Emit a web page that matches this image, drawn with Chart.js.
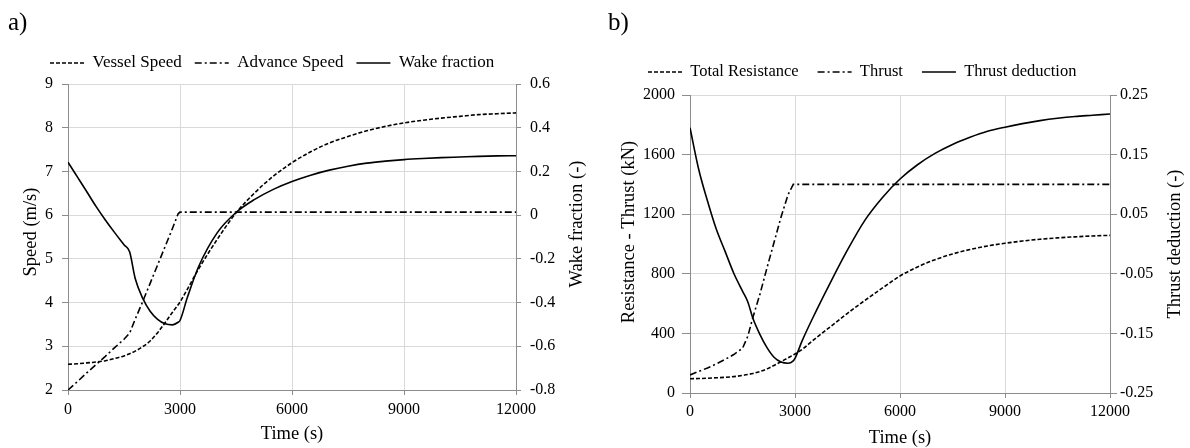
<!DOCTYPE html>
<html>
<head>
<meta charset="utf-8">
<script src="https://cdn.jsdelivr.net/npm/chart.js@4.4.1/dist/chart.umd.min.js"></script>
<style>
    body { margin: 0; background: #fff; }
    #wrap { position: relative; width: 1190px; height: 448px; background: #fff; }
    canvas { position: absolute; top: 0; }
    .tag { position: absolute; top: 9px; font: 25px/25px "Liberation Serif", serif; color: #000; }
</style>
</head>
<body>
<div id="wrap">
    <canvas id="chartA" width="595" height="448" style="left:0"></canvas>
    <canvas id="chartB" width="590" height="448" style="left:600px"></canvas>
    <div class="tag" style="left:8px">a)</div>
    <div class="tag" style="left:608px">b)</div>
</div>
<script>
// time grid shared by every series (s)
const timeS = [0, 250, 500, 750, 1000, 1250, 1500, 1650, 1800, 2000, 2200, 2400, 2600, 2800, 2950, 3000,
    3200, 3500, 4000, 4500, 5000, 5500, 6000, 6500, 7000, 7500, 8000, 8500, 9000, 9500, 10000, 10500, 11000, 11500, 12000];

// a) speeds (m/s) and wake fraction (-)
const vesselSpeed = [2.59, 2.60, 2.62, 2.64, 2.67, 2.72, 2.78, 2.83, 2.89, 2.99, 3.12, 3.31, 3.54, 3.78, 3.95, 4.01,
    4.31, 4.77, 5.45, 6.05, 6.51, 6.89, 7.20, 7.45, 7.65, 7.80, 7.93, 8.03, 8.11, 8.17, 8.22, 8.26, 8.30, 8.32, 8.34];
const advanceSpeed = [2.00, 2.19, 2.39, 2.58, 2.77, 2.97, 3.16, 3.30, 3.62, 4.02, 4.44, 4.86, 5.28, 5.70, 6.03, 6.07,
    6.07, 6.07, 6.07, 6.07, 6.07, 6.07, 6.07, 6.07, 6.07, 6.07, 6.07, 6.07, 6.07, 6.07, 6.07, 6.07, 6.07, 6.07, 6.07];
const wakeFraction = [0.242, 0.175, 0.108, 0.040, -0.022, -0.080, -0.135, -0.168, -0.290, -0.380, -0.440, -0.477, -0.497, -0.502, -0.490, -0.482,
    -0.375, -0.235, -0.080, 0.012, 0.072, 0.118, 0.154, 0.183, 0.206, 0.224, 0.238, 0.247, 0.254, 0.259, 0.263, 0.266, 0.269, 0.271, 0.272];

// b) resistance / thrust (kN) and thrust deduction (-)
const totalResistance = [96, 97, 99, 102, 105, 110, 118, 124, 131, 144, 162, 185, 210, 236, 255, 262,
    292, 350, 443, 535, 622, 705, 785, 846, 895, 933, 963, 987, 1005, 1020, 1032, 1041, 1048, 1054, 1058];
const thrust = [121, 145, 168, 195, 225, 258, 300, 380, 510, 665, 840, 1010, 1180, 1330, 1400, 1400,
    1400, 1400, 1400, 1400, 1400, 1400, 1400, 1400, 1400, 1400, 1400, 1400, 1400, 1400, 1400, 1400, 1400, 1400, 1400];
const thrustDeduction = [0.195, 0.125, 0.072, 0.025, -0.012, -0.049, -0.079, -0.097, -0.125, -0.152, -0.174, -0.190, -0.198, -0.200, -0.196, -0.192,
    -0.163, -0.125, -0.066, -0.010, 0.040, 0.078, 0.109, 0.133, 0.152, 0.167, 0.179, 0.189, 0.196, 0.202, 0.207, 0.211, 0.214, 0.216, 0.218];

// tick labels
const timeTicks = [0, 3000, 6000, 9000, 12000];
const speedTicks = [2, 3, 4, 5, 6, 7, 8, 9];
const wakeTicks = [-0.8, -0.6, -0.4, -0.2, 0, 0.2, 0.4, 0.6];
const forceTicks = [0, 400, 800, 1200, 1600, 2000];
const deductionTicks = [-0.25, -0.15, -0.05, 0.05, 0.15, 0.25];

const GRID = '#d9d9d9';
const AXIS = '#8c8c8c';
const DASHED = [4, 2];
const DASH_DOT = [7, 3, 2, 3];

Chart.defaults.font.family = '"Liberation Serif", "Times New Roman", serif';
Chart.defaults.color = '#000';

function series(label, values, axis, dash, smooth) {
    return {
        label: label,
        data: timeS.map((t, i) => ({ x: t, y: values[i] })),
        yAxisID: axis,
        borderColor: '#000',
        backgroundColor: '#000',
        borderWidth: 1.6,
        borderDash: dash,
        pointRadius: 0,
        tension: 0,
        cubicInterpolationMode: smooth ? 'monotone' : 'default'
    };
}

function setTicks(list) {
    return scale => { scale.ticks = list.map(v => ({ value: v })); };
}

// legend samples keep the dataset's line style
function lineLabels(chart) {
    const items = Chart.defaults.plugins.legend.labels.generateLabels(chart);
    items.forEach(item => {
        const ds = chart.data.datasets[item.datasetIndex];
        item.lineDash = ds.borderDash;
        item.strokeStyle = ds.borderColor;
        item.lineWidth = ds.borderWidth;
    });
    return items;
}

// fixes legend height and places legend row at a given spot
const legendBox = {
    id: 'legendBox',
    beforeLayout(chart, args, opts) {
        const lg = chart.legend;
        if (lg && !lg._fixed) {
            const fit = lg.fit;
            lg.fit = function () { fit.call(this); this.height = opts.height; };
            lg._fixed = true;
        }
    },
    afterLayout(chart, args, opts) {
        const lg = chart.legend;
        const labels = chart.options.plugins.legend.labels;
        lg.left = opts.x - labels.padding;
        lg.top = opts.y - labels.padding - labels.font.size / 2;
    }
};

// vertical axis titles reading bottom to top on both sides
const axisTitles = {
    id: 'axisTitles',
    afterDraw(chart, args, opts) {
        const ctx = chart.ctx;
        opts.items.forEach(item => {
            ctx.save();
            ctx.translate(item.x, item.y);
            ctx.rotate(-Math.PI / 2);
            ctx.font = '18.5px "Liberation Serif", serif';
            ctx.fillStyle = '#000';
            ctx.textAlign = 'center';
            ctx.textBaseline = 'middle';
            ctx.fillText(item.text, 0, 0);
            ctx.restore();
        });
    }
};

function buildChart(canvasId, datasets, cfg) {
    return new Chart(document.getElementById(canvasId), {
        type: 'line',
        data: { datasets: datasets },
        plugins: [legendBox, axisTitles],
        options: {
            responsive: false,
            animation: false,
            devicePixelRatio: 1,
            layout: { padding: 0 },
            plugins: {
                legend: {
                    position: 'top',
                    align: 'start',
                    labels: {
                        usePointStyle: true,
                        pointStyle: 'line',
                        pointStyleWidth: 34,
                        padding: cfg.legendGap,
                        color: '#000',
                        font: { size: cfg.legendFont },
                        generateLabels: lineLabels
                    }
                },
                tooltip: { enabled: false },
                legendBox: { height: cfg.top, x: cfg.legendX, y: cfg.legendY },
                axisTitles: { items: cfg.titles }
            },
            scales: {
                x: {
                    type: 'linear',
                    min: 0,
                    max: 12000,
                    afterBuildTicks: setTicks(timeTicks),
                    afterFit: s => { s.height = cfg.xHeight; },
                    grid: { color: GRID, tickColor: AXIS, tickLength: 5 },
                    border: { color: AXIS },
                    ticks: { padding: cfg.xPad, font: { size: 16 }, maxRotation: 0, autoSkip: false, callback: v => String(v) },
                    title: { display: true, text: 'Time (s)', font: { size: 18.5, lineHeight: 1 }, padding: { top: 0, bottom: cfg.xTitlePad } }
                },
                yL: {
                    type: 'linear',
                    position: 'left',
                    min: cfg.left.ticks[0],
                    max: cfg.left.ticks[cfg.left.ticks.length - 1],
                    afterBuildTicks: setTicks(cfg.left.ticks),
                    afterFit: s => { s.width = cfg.left.width; },
                    grid: { color: GRID, tickColor: AXIS, tickLength: cfg.left.tick },
                    border: { color: AXIS },
                    ticks: { padding: cfg.left.pad, font: { size: 16 }, callback: v => String(v) }
                },
                yR: {
                    type: 'linear',
                    position: 'right',
                    min: cfg.right.ticks[0],
                    max: cfg.right.ticks[cfg.right.ticks.length - 1],
                    afterBuildTicks: setTicks(cfg.right.ticks),
                    afterFit: s => { s.width = cfg.right.width; },
                    grid: { drawOnChartArea: false, tickColor: AXIS, tickLength: cfg.right.tick },
                    border: { color: AXIS },
                    ticks: { padding: cfg.right.pad, font: { size: 16 }, callback: v => String(v) }
                }
            }
        }
    });
}

buildChart('chartA', [
    series('Vessel Speed', vesselSpeed, 'yL', DASHED, true),
    series('Advance Speed', advanceSpeed, 'yL', DASH_DOT, false),
    series('Wake fraction', wakeFraction, 'yR', [], true)
], {
    top: 84, xHeight: 58, xPad: 5, xTitlePad: 4.5,
    legendGap: 13, legendFont: 17, legendX: 50, legendY: 63,
    left: { ticks: speedTicks, width: 68, tick: 6, pad: 9 },
    right: { ticks: wakeTicks, width: 79, tick: 5, pad: 9 },
    titles: [
        { text: 'Speed (m/s)', x: 31, y: 232 },
        { text: 'Wake fraction (-)', x: 577, y: 224 }
    ]
});

buildChart('chartB', [
    series('Total Resistance', totalResistance, 'yL', DASHED, true),
    series('Thrust', thrust, 'yL', DASH_DOT, false),
    series('Thrust deduction', thrustDeduction, 'yR', [], true)
], {
    top: 95, xHeight: 55, xPad: 4.5, xTitlePad: 0.8,
    legendGap: 19, legendFont: 16.5, legendX: 48, legendY: 72,
    left: { ticks: forceTicks, width: 90, tick: 8, pad: 7 },
    right: { ticks: deductionTicks, width: 80, tick: 7, pad: 3 },
    titles: [
        { text: 'Resistance - Thrust (kN)', x: 29, y: 232 },
        { text: 'Thrust deduction (-)', x: 575, y: 244 }
    ]
});
</script>
</body>
</html>
